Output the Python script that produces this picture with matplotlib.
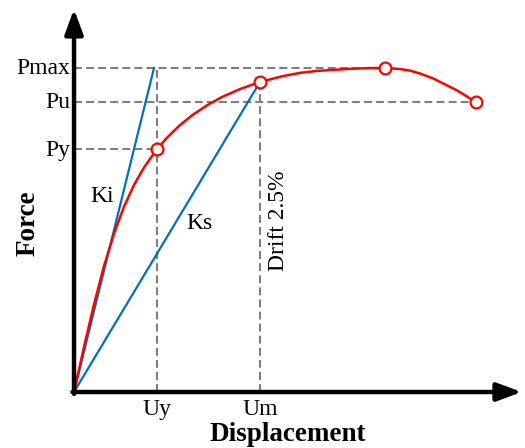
import matplotlib
matplotlib.use("Agg")
import matplotlib.pyplot as plt

# Force–displacement envelope (displacement in % drift, force in % of Pmax)
curve_disp = [0.0, 0.134, 0.269, 0.403, 0.538, 0.672, 0.806, 0.941, 1.116,
              1.250, 1.425, 1.599, 1.788, 2.003, 2.231, 2.500, 2.809, 3.038,
              3.266, 3.710, 3.978, 4.180, 4.382, 4.516, 4.651, 4.825, 5.148,
              5.403]
curve_force = [0.0, 13.9, 27.1, 38.9, 48.9, 57.2, 63.9, 69.3, 75.0,
               78.5, 82.4, 85.6, 88.5, 91.2, 93.5, 95.7, 97.5, 98.5,
               99.1, 99.75, 99.97, 100.0, 99.7, 99.2, 98.3, 96.8, 93.1,
               89.5]

# Characteristic points
Uy, Py = 1.116, 75.0         # yield
Um, Pm = 2.500, 95.7         # drift 2.5 %
Upk, Pmax = 4.180, 100.0     # peak
Uu, Pu = 5.403, 89.5         # ultimate
Ki_disp = 1.075              # initial stiffness line reaches Pmax here

marker_disp = [Uy, Um, Upk, Uu]
marker_force = [Py, Pm, Pmax, Pu]

serif = ["Liberation Serif", "DejaVu Serif"]
red = "#ff0000"
blue = "#0070c0"
grey = "#7f7f7f"

fig = plt.figure(figsize=(5.25, 4.48), dpi=100)
ax = fig.add_axes([0, 0, 1, 1])
ax.set_xlim(-0.995, 6.062)
ax.set_ylim(-17.28, 120.99)
ax.axis("off")

dash = dict(color=grey, lw=1.5, ls=(0, (3.8, 2.0)), zorder=1)
# horizontal reference lines
ax.plot([0, Upk], [Pmax, Pmax], **dash)
ax.plot([0, Uu], [Pu, Pu], **dash)
ax.plot([0, Uy], [Py, Py], **dash)
# vertical reference lines
ax.plot([Uy, Uy], [0, Pmax], **dash)
ax.plot([Um, Um], [0, Pm], **dash)

# stiffness lines
ax.plot([0, Ki_disp], [0, Pmax], color=blue, lw=1.6, zorder=2)
ax.plot([0, Um], [0, Pm], color=blue, lw=1.6, zorder=2)

# envelope curve
ax.plot(curve_disp, curve_force, color=red, lw=1.8, zorder=3,
        solid_joinstyle="round", solid_capstyle="round")
ax.plot(marker_disp, marker_force, ls="none", marker="o", ms=8.5,
        mfc="white", mec=red, mew=1.6, zorder=4)

# axes with arrows
arrow = dict(arrowstyle="-|>,head_length=1.5,head_width=0.55", lw=3.2,
             color="black", shrinkA=0, shrinkB=0, mutation_scale=10)
ax.annotate("", xy=(0, 118.2), xytext=(0, -0.6), arrowprops=arrow, zorder=5)
ax.annotate("", xy=(6.02, 0), xytext=(-0.02, 0), arrowprops=arrow, zorder=5)

# labels
lab = dict(family=serif, fontsize=17, color="black")
ax.text(-0.05, Pmax, "Pmax", ha="right", va="center", **lab)
ax.text(-0.05, Pu, "Pu", ha="right", va="center", **lab)
ax.text(-0.05, Py - 0.5, "Py", ha="right", va="center", **lab)
ax.text(Uy, -2.3, "Uy", ha="center", va="top", **lab)
ax.text(Um, -2.3, "Um", ha="center", va="top", **lab)
ax.text(0.376, 60.2, "Ki", ha="center", va="center", **lab)
ax.text(1.69, 51.9, "Ks", ha="center", va="center", **lab)
ax.text(2.755, 52.8, "Drift 2.5%", ha="center", va="center", rotation=90, **lab)

bold = dict(family=serif, fontsize=19.5, fontweight="bold", color="black")
ax.text(2.87, -13.0, "Displacement", ha="center", va="center", **bold)
ax.text(-0.62, 52.0, "Force", ha="center", va="center", rotation=90, **bold)

fig.savefig("out.png", dpi=100)
